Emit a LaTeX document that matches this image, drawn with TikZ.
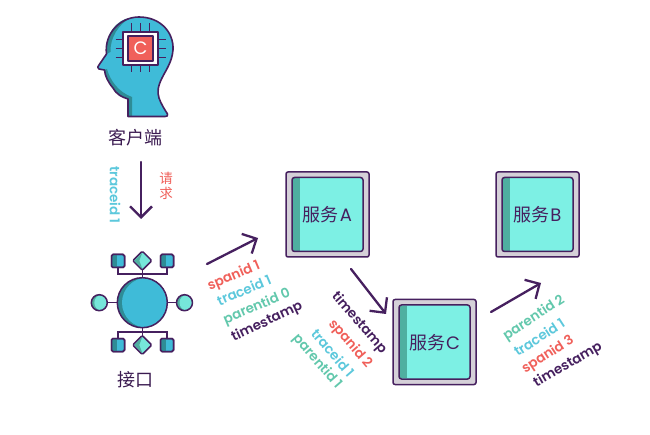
\documentclass[tikz,border=0pt]{standalone}
\usepackage{fontspec}
\setmainfont{Poppins SemiBold}
\newfontfamily\cjk{Noto Sans CJK SC}
\newfontfamily\svclatin{Poppins}
\usetikzlibrary{arrows.meta,shapes.geometric}
\definecolor{ink}{HTML}{46205F}
\definecolor{sky}{HTML}{3FBBD8}
\definecolor{skyd}{HTML}{2E8C96}
\definecolor{mint}{HTML}{7DF0E4}
\definecolor{mintd}{HTML}{4FAFA0}
\definecolor{grayb}{HTML}{D5D0D8}
\definecolor{redl}{HTML}{F0605A}
\definecolor{bluel}{HTML}{5CC8DC}
\definecolor{greenl}{HTML}{62C8AC}
\tikzset{
  flow/.style={draw=ink,line width=2.3pt,line cap=round,-{Straight Barb[length=11pt,width=22pt,line width=2.3pt]}},
  ol/.style={draw=ink,line width=1.5pt,line join=round},
  lnk/.style={draw=ink,line width=1.4pt},
  lab/.style={font=\fontsize{13.5}{13.5}\selectfont,inner sep=0pt},
  cn/.style={font=\cjk\fontsize{18}{18}\selectfont,text=ink!85!black,inner sep=0pt},
  svcname/.style={font=\cjk\fontsize{18}{18}\selectfont,text=ink,inner sep=0pt},
  smallsq/.style={ol,fill=sky,rounded corners=1.5pt},
}
\newcommand{\svcbox}[2]{%
  \path[ol,fill=grayb,rounded corners=2pt] (#1-41.5,#2-42.5) rectangle (#1+41.5,#2+42.5);
  \path[fill=mint,rounded corners=2.5pt] (#1-35.5,#2-37) rectangle (#1+35.5,#2+37);
  \path[fill=mintd] (#1-34.9,#2-36.4) rectangle (#1-28,#2+36.4);
  \path[draw=ink,line width=1.5pt,rounded corners=2.5pt] (#1-35.5,#2-37) rectangle (#1+35.5,#2+37);
}
\newcommand{\sqdark}[2]{%
  \path[smallsq] (#1-6.5,#2-6.5) rectangle (#1+6.5,#2+6.5);
  \path[fill=skyd] (#1-5.9,#2-5.9) rectangle (#1-1.5,#2+5.9);
  \path[draw=ink,line width=1.5pt,rounded corners=1.5pt] (#1-6.5,#2-6.5) rectangle (#1+6.5,#2+6.5);
}
\newcommand{\diam}[2]{%
  \path[ol,fill=mint!85!mintd,rounded corners=1.2pt] (#1,#2-9.5) -- (#1+9.5,#2) -- (#1,#2+9.5) -- (#1-9.5,#2) -- cycle;
  \path[fill=mintd] (#1,#2-8) -- (#1-8,#2) -- (#1,#2+8) -- (#1-3,#2) -- cycle;
}
\newcommand{\crescent}[5]{%
  \begin{scope}
    \clip (#1,#2) circle (#3);
    \path[fill=#5] (#1,#2) circle (#3);
    \path[fill=#4] (#1+3,#2) circle (#3);
  \end{scope}
  \path[ol] (#1,#2) circle (#3);
}
\begin{document}
\begin{tikzpicture}[x=1pt,y=-1pt]
\useasboundingbox[fill=white] (0,0) rectangle (650,435);
% head
\def\headpath{(128,116.5) -- (128,99)
  .. controls (122,97) and (117,95) .. (113,88)
  .. controls (108,82) and (105,76) .. (104.5,70)
  -- (99,69) .. controls (97,68) and (97.5,66.5) .. (99,65)
  -- (106.5,54)
  .. controls (104,34) and (120,17) .. (139,17)
  .. controls (160,17) and (174,32) .. (173,50)
  .. controls (172,62) and (166,70) .. (162,78)
  .. controls (158,86) and (157,92) .. (159,98)
  .. controls (161,104) and (165,110) .. (167.5,114)
  .. controls (168,116) and (167,116.5) .. (165,116.5) -- cycle}
\path[fill=sky] \headpath;
\path[fill=skyd] (128,116) -- (128,99)
  .. controls (122,97) and (117,95) .. (113,88)
  .. controls (108,82) and (105,76) .. (104.5,70)
  -- (107,69) .. controls (110,80) and (118,92) .. (132,97) -- (132,116) -- cycle;
\path[fill=skyd] (106.5,54) .. controls (104,34) and (118,19) .. (130,18)
  .. controls (118,25) and (110,38) .. (110.5,52) -- cycle;
\path[ol,line width=1.6pt] \headpath;
% chip pins
\foreach \d in {-9,0,9}{
  \path[lnk] (140.5+\d,23) -- (140.5+\d,72);
  \path[lnk] (115.5,48.5+\d) -- (165.5,48.5+\d);
}
\path[ol,fill=white] (123,32) rectangle (158,65);
\path[ol,fill=redl] (128,36) rectangle (153,61);
\node[inner sep=0pt,text=white,font=\svclatin\fontsize{18}{18}\selectfont] (chipc) at (140.5,48.5) {C};
\node[cn] (client) at (135,137.5) {客户端};
% request arrow
\coordinate (a0s) at (141,162);
\coordinate (a0e) at (141,219);
\draw[flow] (a0s) -- (a0e);
\node[lab,text=bluel,rotate=-90] (tid0) at (115,195) {traceid 1};
\node[inner sep=0pt,text=redl,font=\cjk\fontsize{13.5}{13.5}\selectfont] (req1) at (166,178) {请};
\node[inner sep=0pt,text=redl,font=\cjk\fontsize{13.5}{13.5}\selectfont] (req2) at (166,193) {求};
% interface
\path[lnk] (118,261) |- (167,274) -- (167,261);
\path[lnk] (142.3,261) -- (142.3,285);
\path[lnk] (118,345) |- (167,332) -- (167,345);
\path[lnk] (142.3,345) -- (142.3,320);
\path[lnk] (100,302.7) -- (184,302.7);
\sqdark{118}{261}
\sqdark{167}{261}
\sqdark{118}{345}
\sqdark{167}{345}
\diam{142.3}{260.7}
\diam{142.3}{345}
\crescent{99.3}{302.7}{8}{mint!85!mintd}{mintd}
\crescent{184.5}{302.7}{8}{mint!85!mintd}{mintd}
\begin{scope}
  \clip (142.3,302.7) circle (25);
  \path[fill=skyd] (142.3,302.7) circle (25);
  \path[fill=sky] (147,302.7) circle (25);
\end{scope}
\path[ol] (142.3,302.7) circle (25);
\node[cn] (iface) at (135.5,380) {接口};
% services
\svcbox{327.5}{214.5}
\svcbox{537.5}{214.5}
\svcbox{434.5}{342}
\node[svcname] (svca) at (327.5,215) {服务\kern1pt{\svclatin A}};
\node[svcname] (svcb) at (537.5,215) {服务\kern1pt{\svclatin B}};
\node[svcname] (svcc) at (434.5,343) {服务\kern1pt{\svclatin C}};
% arrows
\coordinate (a1s) at (207,264);
\coordinate (a1e) at (258,238);
\coordinate (a2s) at (351,269);
\coordinate (a2e) at (386,314);
\coordinate (a3s) at (491,312);
\coordinate (a3e) at (541,283);
\draw[flow] (a1s) -- (a1e);
\draw[flow] (a2s) -- (a2e);
\draw[flow] (a3s) -- (a3e);
% labels group 1
\node[lab,text=redl,rotate=23] (g1a) at (234,276) {spanid 1};
\node[lab,text=bluel,rotate=23] (g1b) at (244,290) {traceid 1};
\node[lab,text=greenl,rotate=23] (g1c) at (257,307) {parentid 0};
\node[lab,text=ink,rotate=25] (g1d) at (267,322) {timestamp};
% labels group 2
\node[lab,text=ink,rotate=-49] (g2a) at (359,323) {timestamp};
\node[lab,text=redl,rotate=-49] (g2b) at (350,344) {spanid 2};
\node[lab,text=bluel,rotate=-49] (g2c) at (333,353) {traceid 1};
\node[lab,text=greenl,rotate=-49] (g2d) at (317,362) {parentid 1};
% labels group 3
\node[lab,text=greenl,rotate=33] (g3a) at (534,318) {parentid 2};
\node[lab,text=bluel,rotate=33] (g3b) at (539,337) {traceid 1};
\node[lab,text=redl,rotate=33] (g3c) at (548,355) {spanid 3};
\node[lab,text=ink,rotate=30] (g3d) at (568,365) {timestamp};
\end{tikzpicture}
\end{document}
